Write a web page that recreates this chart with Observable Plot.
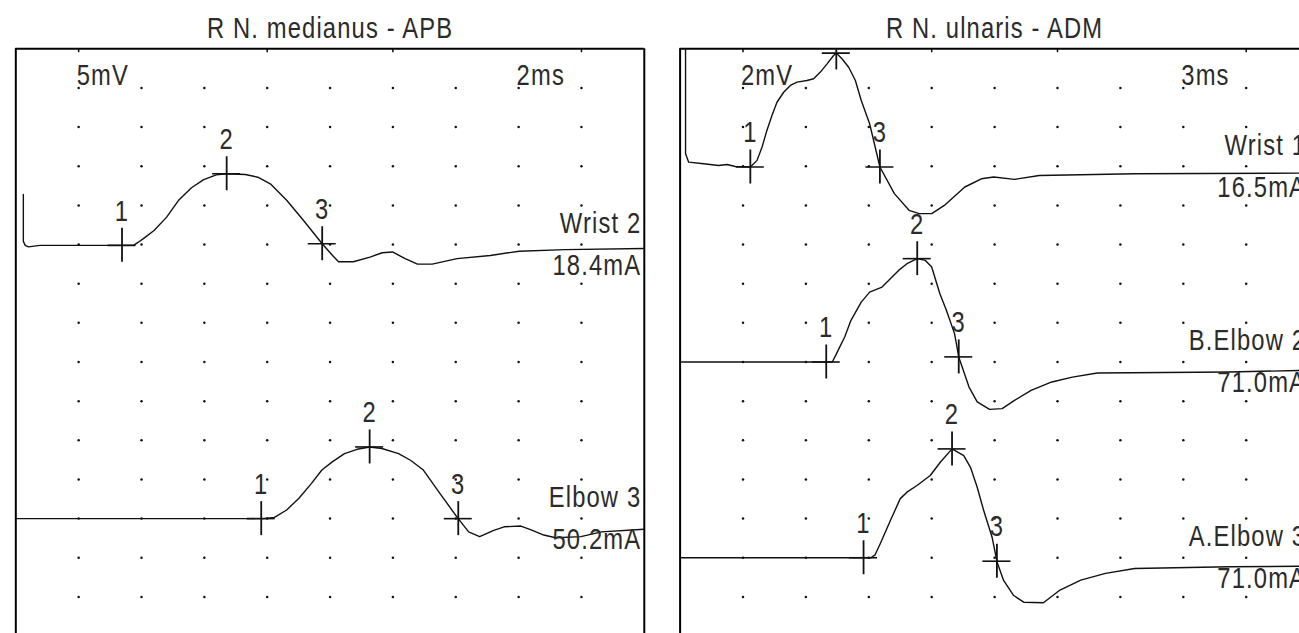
<!DOCTYPE html>
<html>
<head>
<meta charset="utf-8">
<script src="https://cdn.jsdelivr.net/npm/d3@7"></script>
<script src="https://cdn.jsdelivr.net/npm/@observablehq/plot@0.6"></script>
<style>
  html, body { margin: 0; padding: 0; background: #fff; overflow: hidden; }
  #wrap { position: relative; width: 1299px; height: 633px; overflow: hidden; background: #fff; }
  #left, #right { position: absolute; top: 0; height: 633px; }
  #left { left: 0; width: 662px; }
  #right { left: 662px; width: 650px; }
  #wrap svg { max-width: none !important; display: block; }
</style>
</head>
<body>
<div id="wrap"><div id="left"></div><div id="right"></div></div>
<script>
// ---------------- DATA ----------------
// Left panel: R N. medianus - APB   (5 mV/div, 2 ms/div)
const medianusTitle = "R N. medianus - APB";
const medianusSens = "5mV";
const medianusSweep = "2ms";
const medianusNames = ["Wrist 2", "Elbow 3"];
const medianusCurrents = ["18.4mA", "50.2mA"];

// time (ms) / amplitude (mV)
const wrist2T = [0.24, 0.24, 0.3, 0.4, 0.77, 3.75, 3.9, 4.06, 4.40, 4.80, 5.19, 5.59, 5.98, 6.38, 6.71, 7.30, 7.70, 8.10, 8.62, 9.15, 9.75, 10.08, 10.27, 10.74, 11.27, 11.66, 11.99, 12.39, 12.78, 13.25, 14.04, 15.10, 16.02, 17.47, 20.0];
const wrist2V = [6.4, 0.4, -0.1, -0.3, -0.1, -0.1, 0.3, 0.75, 1.8, 3.5, 5.7, 7.25, 8.3, 8.9, 9.05, 8.95, 8.6, 7.75, 5.65, 3.1, 0.1, -1.4, -2.2, -2.2, -1.6, -1.05, -0.95, -1.8, -2.5, -2.5, -1.8, -1.4, -0.85, -0.65, -0.5];
const wrist2Markers = [3.38, 6.71, 9.75];

const elbow3T = [0, 7.9, 8.23, 8.62, 9.01, 9.41, 9.74, 10.07, 10.46, 10.86, 11.26, 11.65, 12.18, 12.56, 12.97, 13.5, 14.03, 14.41, 14.76, 15.21, 15.54, 16.07, 16.4, 16.8, 17.18, 17.98, 18.64, 20];
const elbow3V = [0, 0, 0.15, 1.1, 2.6, 4.5, 6.2, 7.25, 8.3, 8.85, 9.15, 8.95, 8.3, 7.45, 6.2, 3.2, 0.25, -1.7, -2.3, -1.5, -1.05, -0.95, -1.45, -2.1, -2.45, -2.3, -1.7, -1.35];
const elbow3Markers = [7.81, 11.26, 14.08];

// Right panel: R N. ulnaris - ADM   (2 mV/div, 3 ms/div)
const ulnarisTitle = "R N. ulnaris - ADM";
const ulnarisSens = "2mV";
const ulnarisSweep = "3ms";
const ulnarisNames = ["Wrist 1", "B.Elbow 2", "A.Elbow 3"];
const ulnarisCurrents = ["16.5mA", "71.0mA", "71.0mA"];

const wrist1T = [0.26, 0.26, 0.41, 1.12, 1.84, 2.24, 2.63, 3.35, 3.67, 3.91, 4.14, 4.38, 4.62, 4.94, 5.26, 5.58, 6.05, 6.37, 6.69, 7.01, 7.32, 7.45, 7.72, 8.04, 8.36, 8.64, 9.04, 9.53, 10.22, 10.92, 11.41, 12.0, 12.6, 13.58, 14.37, 14.96, 15.95, 17.13, 21.68, 30];
const wrist1V = [7.5, 0.64, 0.21, 0.13, 0.04, 0.09, -0.01, -0.04, 0.3, 0.98, 1.83, 2.59, 3.27, 3.78, 4.13, 4.3, 4.38, 4.47, 4.81, 5.23, 5.66, 5.78, 5.49, 5.06, 4.38, 3.36, 2.17, -0.04, -1.4, -2.25, -2.42, -2.42, -2.0, -1.06, -0.64, -0.55, -0.67, -0.47, -0.38, -0.35];
const wrist1Markers = [3.35, 7.45, 9.53];

const bElbow2T = [0, 7.26, 7.46, 7.85, 8.15, 8.64, 9.04, 9.63, 10.42, 10.82, 11.31, 11.7, 12.0, 12.39, 12.7, 13.09, 13.29, 13.78, 14.17, 14.76, 15.36, 15.95, 16.74, 17.73, 18.71, 19.9, 26.2, 30];
const bElbow2V = [0, 0, 0.43, 1.28, 2.13, 3.06, 3.57, 3.83, 4.68, 5.02, 5.28, 5.19, 4.85, 3.49, 2.64, 1.45, 0.26, -1.28, -2.04, -2.42, -2.38, -1.96, -1.45, -1.02, -0.77, -0.56, -0.51, -0.42];
const bElbow2Markers = [6.97, 11.31, 13.29];

const aElbow3T = [0, 9.1, 9.3, 9.55, 10.03, 10.5, 10.82, 11.3, 11.93, 12.41, 12.97, 13.53, 13.85, 14.17, 14.48, 14.88, 15.12, 15.43, 15.91, 16.39, 17.33, 18.12, 19.11, 20.29, 21.68, 26.2, 30];
const aElbow3V = [0, 0, 0.15, 0.73, 1.9, 3.02, 3.35, 3.69, 4.2, 4.88, 5.56, 5.22, 4.62, 3.6, 2.41, 1.05, -0.23, -1.16, -1.93, -2.27, -2.3, -1.65, -1.14, -0.8, -0.55, -0.46, -0.43];
const aElbow3Markers = [8.75, 12.97, 15.11];

// ---------------- LAYOUT / STYLE ----------------
const FONT = "'Liberation Sans',Arial,sans-serif";
const CONDENSE = 0.82;
const TEXT = "#2b2b2b";
const INK = "#111";
const H = 633, MT = 48.3, ROWS = 14.935; // visible grid rows below top border

function interp(ts, vs, t) {
  for (let i = ts.length - 1; i > 0; i--) {
    if (t >= ts[i - 1] && t <= ts[i]) {
      const a = ts[i - 1], b = ts[i];
      return b === a ? vs[i] : vs[i - 1] + (vs[i] - vs[i - 1]) * (t - a) / (b - a);
    }
  }
  return vs[vs.length - 1];
}

function condense(svg, s) {
  svg.querySelectorAll("text").forEach(t => {
    const tr = t.getAttribute("transform");
    if (tr) {
      t.setAttribute("transform", tr + ` scale(${s},1)`);
    } else {
      const x = +(t.getAttribute("x") || 0), y = +(t.getAttribute("y") || 0);
      t.removeAttribute("x"); t.removeAttribute("y");
      t.setAttribute("transform", `translate(${x},${y}) scale(${s},1)`);
    }
  });
  return svg;
}

function panel(cfg) {
  const {width, ml, mr, msDiv, mvDiv, traces, title, sens, sweep} = cfg;
  const xMax = 10 * msDiv;
  const pxX = (width - ml - mr) / xMax;
  const pxY = (H - MT) / (ROWS * mvDiv);
  const hx = 14 / pxX, hy = 17 / pxY;
  const lineData = traces.flatMap(tr => tr.t.map((t, i) => ({name: tr.name, t, y: tr.v[i] - tr.row * mvDiv})));
  const marks = traces.flatMap(tr => tr.markers.map((t, i) => ({n: String(i + 1), t, y: interp(tr.t, tr.v, t) - tr.row * mvDiv})));
  const grid = [];
  for (const c of d3.range(1, 10)) for (const r of d3.range(1, 16)) grid.push({t: c * msDiv, y: -r * mvDiv});
  const topTicks = [1, 4, 6, 9].map(c => c * msDiv);
  const svg = Plot.plot({
    width, height: H,
    marginLeft: ml, marginRight: mr, marginTop: MT, marginBottom: 0,
    x: {domain: [0, xMax], axis: null},
    y: {domain: [-ROWS * mvDiv, 0], axis: null},
    style: {fontFamily: FONT, fontSize: "29px", letterSpacing: "1.4px", background: "#fff", color: TEXT, overflow: "visible", maxWidth: "none"},
    marks: [
      Plot.dot(grid, {x: "t", y: "y", r: 1.25, fill: "#111", stroke: null}),
      Plot.ruleX(topTicks, {y1: 0, y2: -0.1 * mvDiv, stroke: INK, strokeWidth: 1.5}),
      Plot.ruleX([0, xMax], {stroke: "#000", strokeWidth: 2}),
      Plot.ruleY([0], {stroke: "#000", strokeWidth: 2}),
      Plot.line(lineData, {x: "t", y: "y", z: "name", stroke: INK, strokeWidth: 1.4, clip: true}),
      Plot.ruleX(marks, {x: "t", y1: d => d.y - hy, y2: d => d.y + hy, stroke: INK, strokeWidth: 1.8, clip: true}),
      Plot.ruleY(marks, {y: "y", x1: d => d.t - hx, x2: d => d.t + hx, stroke: INK, strokeWidth: 1.6, clip: true}),
      Plot.text(marks, {x: "t", y: "y", text: "n", dy: -34, fill: TEXT, clip: true}),
      Plot.text(traces, {x: () => xMax, y: d => -d.row * mvDiv, text: "name", textAnchor: "end", dx: -3, dy: -21, fill: TEXT}),
      Plot.text(traces, {x: () => xMax, y: d => -d.row * mvDiv, text: "current", textAnchor: "end", dx: -3, dy: 21, fill: TEXT}),
      Plot.text([sens], {x: () => msDiv, y: () => 0, text: d => d, textAnchor: "start", dx: -2, dy: 27, fill: TEXT}),
      Plot.text([sweep], {x: () => 8 * msDiv, y: () => 0, text: d => d, textAnchor: "start", dx: -2, dy: 27, fill: TEXT}),
      Plot.text([title], {x: () => xMax / 2, y: () => 0, text: d => d, dy: -20, fill: TEXT})
    ]
  });
  return condense(svg, CONDENSE);
}

const leftTraces = [
  {name: medianusNames[0], current: medianusCurrents[0], t: wrist2T, v: wrist2V, markers: wrist2Markers, row: 5},
  {name: medianusNames[1], current: medianusCurrents[1], t: elbow3T, v: elbow3V, markers: elbow3Markers, row: 12}
];
const rightTraces = [
  {name: ulnarisNames[0], current: ulnarisCurrents[0], t: wrist1T, v: wrist1V, markers: wrist1Markers, row: 3},
  {name: ulnarisNames[1], current: ulnarisCurrents[1], t: bElbow2T, v: bElbow2V, markers: bElbow2Markers, row: 8},
  {name: ulnarisNames[2], current: ulnarisCurrents[2], t: aElbow3T, v: aElbow3V, markers: aElbow3Markers, row: 13}
];

document.getElementById("left").appendChild(panel({
  width: 662, ml: 15.3, mr: 18.2, msDiv: 2, mvDiv: 5,
  traces: leftTraces, title: medianusTitle, sens: medianusSens, sweep: medianusSweep
}));
document.getElementById("right").appendChild(panel({
  width: 650, ml: 17.6, mr: 3.4, msDiv: 3, mvDiv: 2,
  traces: rightTraces, title: ulnarisTitle, sens: ulnarisSens, sweep: ulnarisSweep
}));
</script>
</body>
</html>
